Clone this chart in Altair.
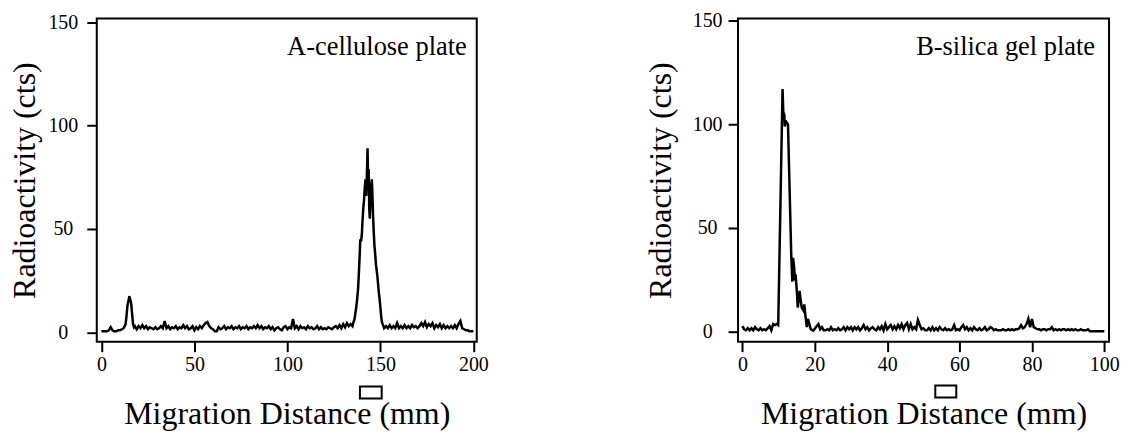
import altair as alt
import pandas as pd

# ---------------- data: panel A (cellulose plate) ----------------
a_mm = [0, 1, 2, 3, 4, 5, 6, 7, 8, 9, 10, 11, 12, 13,
        13.5, 14, 14.5, 15, 15.5, 16, 16.5, 17, 17.5, 18,
        19, 20, 21, 22, 23, 24, 25, 26, 27, 28, 29, 30, 31, 32, 33, 34, 35, 36, 37, 38, 39,
        40, 41, 42, 43, 44, 45, 46, 47, 48, 49, 50, 51, 52, 53, 54, 55, 56, 57, 58, 59,
        60, 61, 62, 63, 64, 65, 66, 67, 68, 69, 70, 71, 72, 73, 74, 75, 76, 77, 78, 79,
        80, 81, 82, 83, 84, 85, 86, 87, 88, 89, 90, 91, 92, 93, 94, 95, 96, 97, 98, 99,
        100, 101, 102, 103, 104, 105, 106, 107, 108, 109, 110, 111, 112, 113, 114, 115, 116, 117, 118, 119,
        120, 121, 122, 123, 124, 125, 126, 127, 128, 129, 130, 131, 132, 133, 134, 135,
        135.5, 136, 136.5, 137, 137.5, 138, 138.4, 138.8, 139.2, 139.6, 140, 140.4, 140.8, 141.2, 141.6,
        142, 142.4, 142.8, 143.1, 143.4, 143.7, 144, 144.3, 144.6, 145, 145.4, 145.7, 146, 146.4, 146.8,
        147.2, 147.6, 148, 148.4, 148.8, 149.2, 149.6, 150, 150.4, 150.8, 151.2, 151.6, 152,
        153, 154, 155, 156, 157, 158, 159, 160, 161, 162, 163, 164, 165, 166, 167, 168, 169,
        170, 171, 172, 173, 174, 175, 176, 177, 178, 179, 180, 181, 182, 183, 184, 185, 186, 187, 188, 189,
        190, 191, 192, 193, 194, 195, 196, 197, 198, 199, 200]
a_cts = [0.5, 0.5, 0.5, 0.5, 1, 2.5, 1, 0.5, 0.5, 1, 1, 1.5, 2, 4,
         8, 13, 15, 17.5, 16, 14, 9, 4, 2.5, 3,
         1.5, 3, 2, 3.5, 2, 3, 1.5, 2.5, 2, 1.5, 2.5, 1.5, 2, 3, 2, 5.5, 2, 3, 1.5, 2.5, 2,
         3, 1.5, 2.5, 2, 3.5, 2, 3, 1.5, 2, 3, 1, 2.5, 1.5, 3, 2, 3.5, 4.5, 5, 3, 2,
         1.5, 0.5, 0.5, 2.5, 1.5, 2, 3, 1.5, 2.5, 2, 3, 1.5, 2.5, 2, 3, 1.5, 2.5, 2, 3, 1.5,
         2.5, 2, 3, 2, 3.5, 2, 3, 1.5, 2.5, 2, 3, 1.5, 2.5, 1, 2, 2.5, 1.5, 1, 2.5, 3,
         1.5, 2.5, 2, 6.5, 2, 3, 1.5, 3, 2, 2.5, 1.5, 3, 2, 2.5, 1.5, 2, 3, 1.5, 2.5, 1.5,
         2, 1.5, 2.5, 2, 1.5, 2.5, 3, 2, 3.5, 2, 4, 2.5, 4.5, 3, 4, 3,
         5, 6, 9, 12, 16, 21, 28, 36, 45, 44, 47, 54, 60, 64, 70,
         74, 66, 78, 89, 72, 79, 60, 55, 63, 70, 74, 67, 58, 49, 42,
         38, 33, 30, 27, 23, 19, 16, 12, 8, 5, 4, 3, 2,
         3, 2, 3.5, 2, 3, 2, 4.5, 2, 3, 2, 3.5, 2, 3, 2, 3.5, 2.5, 3,
         2, 3, 4.5, 3, 5, 2.5, 4, 3, 4.5, 2, 3.5, 2.5, 4, 2, 3.5, 2, 3, 2, 3, 2,
         3.5, 2, 4, 5.5, 2, 1.5, 1, 1, 0.5, 0.5, 0.5]

# ---------------- data: panel B (silica gel plate) ----------------
b_mm = [0, 0.5, 1, 1.5, 2, 2.5, 3, 3.5, 4, 4.5, 5, 5.5, 6, 6.5, 7, 7.5, 8, 8.5, 9, 9.5, 9.9,
        11.1, 11.3, 11.6, 11.7, 12.0, 12.4, 12.6, 13.5, 13.8, 14.0, 14.3, 14.5, 14.7, 15.1, 15.3,
        15.8, 16.1, 16.4, 16.9, 17.1, 17.4, 17.8, 18.1, 18.5, 18.9, 19.6, 20.3,
        21, 21.5, 22, 22.5, 23, 23.5, 24, 24.5, 25, 25.5, 26, 26.5, 27, 27.5, 28, 28.5, 29, 29.5,
        30, 30.5, 31, 31.5, 32, 32.5, 33, 33.5, 34, 34.5, 35, 35.5, 36, 36.5, 37, 37.5, 38, 38.5, 39, 39.5,
        40, 40.5, 41, 41.5, 42, 42.5, 43, 43.5, 44, 44.5, 45, 45.5, 46, 46.5, 47, 47.5, 48, 48.5, 49, 49.5,
        50, 50.5, 51, 51.5, 52, 52.5, 53, 53.5, 54, 54.5, 55, 55.5, 56, 56.5, 57, 57.5, 58, 58.5, 59, 59.5,
        60, 60.5, 61, 61.5, 62, 62.5, 63, 63.5, 64, 64.5, 65, 65.5, 66, 66.5, 67, 67.5, 68, 68.5, 69, 69.5,
        70, 70.5, 71, 71.5, 72, 72.5, 73, 73.5, 74, 74.5, 75, 75.5, 76, 76.5, 77, 77.5, 78, 78.5, 79, 79.5,
        80, 80.5, 81, 81.5, 82, 82.5, 83, 83.5, 84, 84.5, 85, 85.5, 86, 86.5, 87, 87.5, 88, 88.5, 89, 89.5,
        90, 90.5, 91, 91.5, 92, 92.5, 93, 93.5, 94, 94.5, 95, 95.5, 96, 97, 98, 99, 100]
b_cts = [2.5, 1, 0.5, 1.5, 0.5, 1.5, 0.5, 2, 1, 0.5, 1.5, 0.5, 1, 0.5, 1.5, 2.5, 0.5, 3.5, 3, 3.5, 3,
         117, 106, 104.5, 99, 101.5, 100.5, 100, 37, 24, 35.5, 31, 24.5, 27.5, 18, 11.5,
         19.5, 15, 11.5, 10, 13, 8, 2, 6, 3.5, 1, 0.3, 2,
         3.5, 1, 2, 0.5, 0.5, 1, 0.5, 2, 0.5, 1, 0.5, 1.5, 0.5, 1, 2, 0.5, 2, 1,
         2, 0.5, 2, 1, 2, 0.5, 1.5, 3, 1, 2, 0.5, 1.5, 2, 1, 0.5, 2, 1, 2.5, 0.5, 3.5,
         1, 2, 3, 1, 2.5, 1, 3, 1.5, 3.5, 1, 3, 4, 1, 3.5, 1, 2, 1, 5.5, 3, 1,
         1.5, 0.5, 0.5, 1.5, 0.5, 2, 0.5, 1.5, 0.5, 2, 1, 0.5, 1.5, 0.5, 1, 0.5, 1, 3, 0.5, 1,
         0.5, 2, 3, 1, 2, 0.5, 1.5, 0.5, 2, 1, 0.5, 1.5, 0.5, 1, 2, 0.5, 1, 2, 1.5, 0.5,
         1, 0.5, 0.5, 0.5, 1, 0.5, 0.5, 1, 0.5, 1, 0.5, 1, 1, 1.5, 3, 1.5, 2, 3.5, 6, 2,
         6, 2, 1.5, 1, 1, 0.5, 1, 1, 0.5, 1, 1, 2, 0.5, 1, 0.5, 1, 0.5, 1, 1, 0.5,
         1, 0.5, 1, 0.5, 1, 0.5, 0.5, 1, 0.5, 0.5, 0.5, 1, 0, 0, 0, 0, 0]

# reference-standard markers drawn below the x axis (mm range)
a_marker = [139, 150.7]
b_marker = [53.3, 59.1]

titles = ["A-cellulose plate", "B-silica gel plate"]
x_ticks_a = [0, 50, 100, 150, 200]
x_ticks_b = [0, 20, 40, 60, 80, 100]
y_ticks = [0, 50, 100, 150]

FONT = "Liberation Serif"
H = 324


def panel(mm, cts, marker, label, xdom, ydom, xticks, ylabpad, ytitlepad, text_dx, W):
    df = pd.DataFrame({"mm": mm, "cts": cts})
    mk = pd.DataFrame({"x1": [marker[0]], "x2": [marker[1]], "y1": [-26.2], "y2": [-32.0]})
    xs = alt.Scale(domain=xdom, nice=False, zero=False)
    ys = alt.Scale(domain=ydom, nice=False, zero=False)
    line = alt.Chart(df).mark_line(color="black", strokeWidth=2.5, strokeJoin="miter").encode(
        x=alt.X("mm:Q", scale=xs,
                axis=alt.Axis(values=xticks, title="Migration Distance (mm)", labelPadding=3,
                              titlePadding=24)),
        y=alt.Y("cts:Q", scale=ys,
                axis=alt.Axis(values=y_ticks, title="Radioactivity (cts)", labelAlign="center",
                              labelBaseline="middle", labelPadding=ylabpad, titlePadding=ytitlepad)),
    )
    rect = alt.Chart(mk).mark_rect(fill="white", stroke="black", strokeWidth=2, clip=False).encode(
        x="x1:Q", x2="x2:Q", y="y1:Q", y2="y2:Q"
    )
    txt = alt.Chart(pd.DataFrame({"t": [label]})).mark_text(
        align="right", baseline="alphabetic", font=FONT, fontSize=26.5, color="black"
    ).encode(text="t:N", x=alt.value(W - text_dx), y=alt.value(37))
    return alt.layer(line, rect, txt).properties(width=W, height=H)


left = panel(a_mm, a_cts, a_marker, titles[0], [-2.5, 201.8], [-4.5, 151.8], x_ticks_a, 24, 6, 10, 381)
right = panel(b_mm, b_cts, b_marker, titles[1], [-1.2, 101.3], [-5.0, 151.1], x_ticks_b, 21, 15, 14, 372)

chart = alt.hconcat(left, right, spacing=154).properties(
    padding={"left": 0, "top": 1, "right": 0, "bottom": 0}
).configure_view(
    stroke="black", strokeWidth=2
).configure_axis(
    domain=False, grid=False, ticks=True, tickSize=10, tickWidth=2, tickColor="black",
    labelFont=FONT, labelFontSize=20, labelColor="black",
    titleFont=FONT, titleFontSize=32, titleFontWeight="normal", titleColor="black",
)

chart.save("out.html", embed_options={"renderer": "svg", "actions": False})
